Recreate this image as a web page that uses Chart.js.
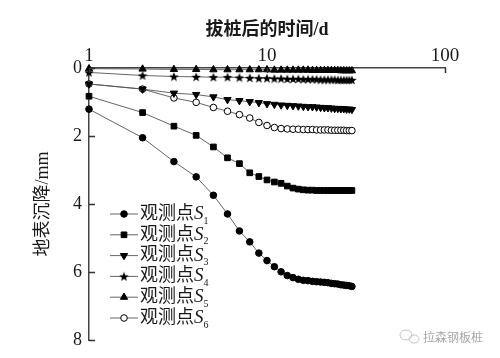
<!DOCTYPE html>
<html><head><meta charset="utf-8">
<script src="https://cdn.jsdelivr.net/npm/chart.js@4.4.1/dist/chart.umd.min.js"></script>
<style>html,body{margin:0;padding:0;background:#fff;}#wrap{width:500px;height:358px;position:relative;}</style>
</head><body><div id="wrap"><canvas id="c" width="500" height="358"></canvas></div>
<script>
// ---- data ----
const days = [1,2,3,4,5,6,7,8,9,10,11,12,13,14,15,16,17,18,19,20,21,22,23,24,25,26,27,28,29,30];
const xTickValues = [1, 10, 100];
const yTickValues = [0, 2, 4, 6, 8];
const s1 = [1.21,2.05,2.75,3.20,3.74,4.29,4.79,5.11,5.44,5.66,5.84,5.99,6.10,6.16,6.21,6.24,6.25,6.27,6.28,6.29,6.30,6.31,6.33,6.34,6.35,6.37,6.38,6.39,6.40,6.42];
const s2 = [0.83,1.31,1.71,1.98,2.32,2.64,2.81,3.08,3.19,3.29,3.35,3.39,3.47,3.53,3.56,3.58,3.59,3.59,3.60,3.60,3.60,3.60,3.60,3.60,3.60,3.60,3.60,3.60,3.60,3.60];
const s3 = [0.47,0.62,0.74,0.78,0.85,0.93,0.96,0.99,1.02,1.05,1.07,1.09,1.10,1.11,1.12,1.13,1.14,1.14,1.15,1.16,1.17,1.17,1.18,1.19,1.19,1.20,1.20,1.21,1.21,1.22];
const s4 = [0.13,0.22,0.25,0.26,0.27,0.27,0.28,0.29,0.30,0.30,0.31,0.31,0.32,0.32,0.32,0.33,0.33,0.33,0.33,0.34,0.34,0.34,0.34,0.34,0.35,0.35,0.35,0.35,0.35,0.35];
const s5 = [0.02,0.03,0.04,0.04,0.05,0.05,0.05,0.05,0.05,0.05,0.06,0.06,0.06,0.06,0.06,0.06,0.06,0.07,0.07,0.07,0.07,0.07,0.07,0.07,0.07,0.08,0.08,0.08,0.08,0.08];
const s6 = [0.47,0.62,0.88,1.01,1.16,1.27,1.37,1.47,1.60,1.69,1.75,1.78,1.79,1.80,1.80,1.81,1.81,1.81,1.82,1.82,1.82,1.82,1.83,1.83,1.83,1.83,1.83,1.84,1.84,1.84];
const legendPrefix = '观测点';
const legendSymbol = 'S';
const legendSubs = ['1','2','3','4','5','6'];
const xTitle = '拔桩后的时间/d';
const yTitle = '地表沉降/mm';
const watermark = '拉森钢板桩';

// ---- star marker ----
function makeStar(size) {
  const c = document.createElement('canvas');
  c.width = size; c.height = size;
  const g = c.getContext('2d');
  const cx = size / 2, cy = size / 2 + 0.5, R = size / 2, r = R * 0.42;
  g.beginPath();
  for (let i = 0; i < 10; i++) {
    const a = -Math.PI / 2 + i * Math.PI / 5;
    const rr = i % 2 === 0 ? R : r;
    const px = cx + rr * Math.cos(a), py = cy + rr * Math.sin(a);
    if (i === 0) g.moveTo(px, py); else g.lineTo(px, py);
  }
  g.closePath();
  g.fillStyle = '#000';
  g.fill();
  return c;
}
const starImg = makeStar(10);

const styles = [
  {pointStyle: 'circle', radius: 3.3, rotation: 0, bg: '#000'},
  {pointStyle: 'rect', radius: 4, rotation: 0, bg: '#000'},
  {pointStyle: 'triangle', radius: 4.2, rotation: 180, bg: '#000'},
  {pointStyle: starImg, radius: 5, rotation: 0, bg: '#000'},
  {pointStyle: 'triangle', radius: 4.2, rotation: 0, bg: '#000'},
  {pointStyle: 'circle', radius: 3.3, rotation: 0, bg: '#fff'}
];
const seriesList = [s1, s2, s3, s4, s5, s6];

const SERIF = '"Liberation Serif", "Noto Sans CJK SC", serif';
const datasets = seriesList.map((vals, i) => ({
  label: legendPrefix + legendSymbol + legendSubs[i],
  data: days.map((d, k) => ({x: d, y: vals[k]})),
  borderColor: '#555',
  borderWidth: 0.9,
  pointStyle: styles[i].pointStyle,
  pointRadius: styles[i].radius,
  pointRotation: styles[i].rotation,
  pointBackgroundColor: styles[i].bg,
  pointBorderColor: '#000',
  pointBorderWidth: 1,
  tension: 0,
  clip: false
}));

const CHART_TOP = 68, CHART_LEFT = 89;

const decorPlugin = {
  id: 'decor',
  afterDraw(chart) {
    const ctx = chart.ctx;
    const xs = chart.scales.x, ys = chart.scales.y;
    const area = chart.chartArea;
    ctx.save();
    // inward tick marks
    ctx.strokeStyle = '#333';
    ctx.lineWidth = 1.5;
    ctx.beginPath();
    xTickValues.forEach(v => {
      const px = Math.round(xs.getPixelForValue(v)) + 0.5;
      ctx.moveTo(px, area.top); ctx.lineTo(px, area.top + 5);
    });
    yTickValues.forEach(v => {
      const py = Math.round(ys.getPixelForValue(v)) + 0.5;
      ctx.moveTo(area.left, py); ctx.lineTo(area.left + 6, py);
    });
    ctx.stroke();

    // legend
    const lx0 = 110, lx1 = 138, mx = 124, tx = 140;
    for (let i = 0; i < 6; i++) {
      const y = 214 + i * 20.8;
      ctx.strokeStyle = '#555';
      ctx.lineWidth = 0.9;
      ctx.beginPath(); ctx.moveTo(lx0, y); ctx.lineTo(lx1, y); ctx.stroke();
      ctx.fillStyle = styles[i].bg;
      ctx.strokeStyle = '#000';
      ctx.lineWidth = 1;
      Chart.helpers.drawPoint(ctx, {pointStyle: styles[i].pointStyle, radius: styles[i].radius, rotation: styles[i].rotation, borderWidth: 1}, mx, y);
      ctx.fillStyle = '#1a1a1a';
      ctx.textBaseline = 'middle';
      ctx.textAlign = 'left';
      ctx.font = '18px ' + SERIF;
      ctx.fillText(legendPrefix, tx, y);
      const w = ctx.measureText(legendPrefix).width;
      ctx.font = 'italic 19px ' + SERIF;
      ctx.fillText(legendSymbol, tx + w, y);
      const ws = ctx.measureText(legendSymbol).width;
      ctx.font = '10px ' + SERIF;
      ctx.fillText(legendSubs[i], tx + w + ws, y + 7);
    }

    // watermark
    ctx.strokeStyle = '#c4c4c4';
    ctx.lineWidth = 1;
    ctx.beginPath(); ctx.ellipse(406, 335, 6, 5, 0, 0, Math.PI * 2); ctx.stroke();
    ctx.beginPath(); ctx.ellipse(414, 339, 5, 4, 0, 0, Math.PI * 2); ctx.stroke();
    ctx.fillStyle = '#a8a8a8';
    ctx.font = '12px "Noto Sans CJK SC", sans-serif';
    ctx.textBaseline = 'middle';
    ctx.fillText(watermark, 423, 337);
    ctx.restore();
  }
};

new Chart(document.getElementById('c'), {
  type: 'line',
  data: {datasets},
  plugins: [decorPlugin],
  options: {
    responsive: false,
    animation: false,
    devicePixelRatio: 1,
    layout: {padding: {left: 0, right: 55, top: 0, bottom: 16}},
    plugins: {
      legend: {display: false},
      tooltip: {enabled: false},
      title: {
        display: true,
        text: xTitle,
        fullSize: false,
        color: '#1a1a1a',
        font: {family: SERIF, size: 18, weight: 'bold'},
        padding: {top: 20, bottom: 0}
      }
    },
    scales: {
      x: {
        type: 'logarithmic',
        position: 'top',
        min: 1, max: 100,
        afterBuildTicks: s => { s.ticks = xTickValues.map(v => ({value: v})); },
        afterFit: s => { s.height = CHART_TOP - 41.6; },
        ticks: {
          color: '#1a1a1a',
          font: {family: SERIF, size: 19},
          padding: 1,
          maxRotation: 0,
          autoSkip: false,
          callback: v => String(v)
        },
        grid: {display: true, drawOnChartArea: false, drawTicks: false},
        border: {display: true, color: '#444', width: 1.5}
      },
      y: {
        type: 'linear',
        reverse: true,
        min: 0, max: 8,
        afterBuildTicks: s => { s.ticks = yTickValues.map(v => ({value: v})); },
        afterFit: s => { s.width = CHART_LEFT; },
        ticks: {
          color: '#1a1a1a',
          font: {family: SERIF, size: 18},
          padding: 7,
          callback: v => String(v)
        },
        title: {
          display: true,
          text: yTitle,
          color: '#1a1a1a',
          font: {family: SERIF, size: 18},
          padding: {top: 32, bottom: 0}
        },
        grid: {display: true, drawOnChartArea: false, drawTicks: false},
        border: {display: true, color: '#444', width: 1.5}
      }
    }
  }
});
</script>
</body></html>
